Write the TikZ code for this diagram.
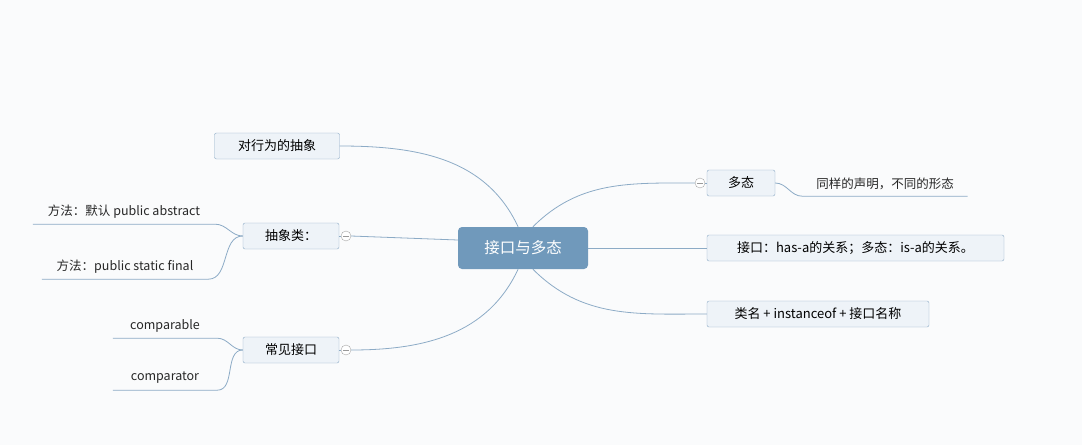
\documentclass[tikz,border=0pt]{standalone}
\usepackage{fontspec}
\setmainfont{Noto Sans CJK SC}
\usetikzlibrary{positioning}
\definecolor{bgc}{RGB}{250,251,252}
\definecolor{lnc}{RGB}{140,171,198}
\definecolor{boxf}{RGB}{238,243,248}
\definecolor{hubf}{RGB}{112,153,187}
\begin{document}
\begin{tikzpicture}[x=1pt, y=1pt, font=\fontsize{12.5}{14}\selectfont,
  b/.style={draw=lnc, rounded corners=2pt, fill=boxf, minimum height=26pt, inner xsep=0pt, font=\fontsize{13}{15}\selectfont},
  hubbox/.style={fill=hubf, rounded corners=4pt, text=white, minimum width=130pt, minimum height=42pt, font=\fontsize{15.5}{17}\selectfont},
  leaf/.style={minimum height=24pt, inner sep=0pt, text=black!85},
  tog/.style={circle, draw=gray!70, fill=white, minimum size=10pt, inner sep=0pt,
    path picture={\draw[gray!80] ([xshift=-3pt]path picture bounding box.center) -- ([xshift=3pt]path picture bounding box.center);}},
  l/.style={draw=lnc, line width=0.8pt}]
\useasboundingbox[fill=bgc] (0,0) rectangle (1082,-445);
% centre and main branches
\node[hubbox] (hub) at (523,-248) {接口与多态};
\node[b, minimum width=125pt] (act) at (277,-146) {对行为的抽象};
\node[b, minimum width=96pt] (abs) at (291,-236) {抽象类：};
\node[b, minimum width=96pt] (com) at (291,-350) {常见接口};
\node[b, minimum width=68pt] (poly) at (741,-183) {多态};
\node[b, minimum width=297pt] (has) at (855.5,-248) {接口：has-a的关系；多态：is-a的关系。};
\node[b, minimum width=222pt] (cls) at (818,-314) {类名 + instanceof + 接口名称};
\node[tog] (tabs) at (346,-236) {};
\node[tog] (tcom) at (346,-350) {};
\node[tog] (tpoly) at (700,-183) {};
\draw[l] (hub.103) to[out=115,in=0] (act.east);
\draw[l] (hub.173) -- (tabs.east); \draw[l] (tabs) -- (abs.east);
\draw[l] (hub.-103) to[out=-115,in=0] (tcom.east); \draw[l] (tcom) -- (com.east);
\draw[l] (hub.65) to[out=45,in=180] (tpoly.west); \draw[l] (tpoly) -- (poly.west);
\draw[l] (hub.east) -- (has.west);
\draw[l] (hub.-65) to[out=-45,in=180] (cls.west);
% leaves
\node[leaf, minimum width=182pt] (m1) at (124,-212) {方法：默认 public abstract};
\node[leaf, minimum width=166pt] (m2) at (125,-267) {方法：public static final};
\node[leaf, minimum width=104pt] (cp1) at (165,-326) {comparable};
\node[leaf, minimum width=104pt] (cp2) at (165,-378) {comparator};
\node[leaf, minimum width=165pt] (same) at (885,-184) {同样的声明，不同的形态};
\draw[l] (m1.south west) -- (m1.south east) to[out=0,in=180] (abs.west);
\draw[l] (m2.south west) -- (m2.south east) to[out=0,in=180] (abs.west);
\draw[l] (cp1.south west) -- (cp1.south east) to[out=0,in=180] (com.west);
\draw[l] (cp2.south west) -- (cp2.south east) to[out=0,in=180] (com.west);
\draw[l] (same.south east) -- (same.south west) to[out=180,in=0] (poly.east);
\end{tikzpicture}
\end{document}
